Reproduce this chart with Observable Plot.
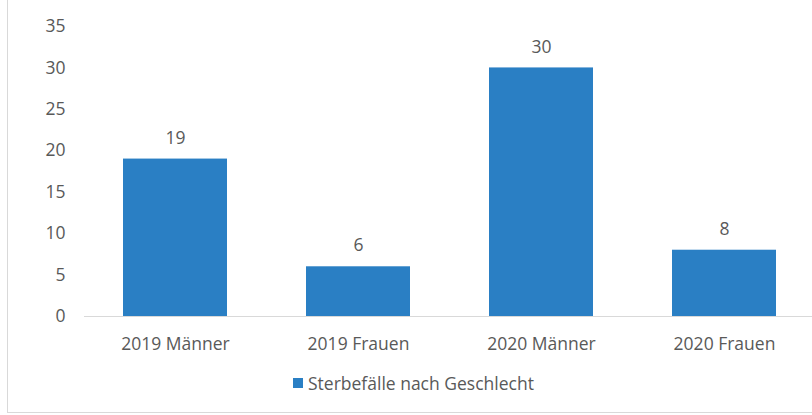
<!DOCTYPE html>
<html>
<head>
<meta charset="utf-8">
<script src="https://cdn.jsdelivr.net/npm/d3@7"></script>
<script src="https://cdn.jsdelivr.net/npm/@observablehq/plot@0.6"></script>
<style>
  html, body { margin: 0; padding: 0; background: #fff; }
  #wrap { position: relative; width: 812px; height: 415px; overflow: hidden; font-family: "Open Sans", sans-serif; color: #595959; }
  #chart svg { display: block; }
  .bl { position: absolute; left: 7px; top: 0; width: 1px; height: 413px; background: #d9d9d9; }
  .bb { position: absolute; left: 7px; top: 412px; width: 805px; height: 1px; background: #d9d9d9; }
  #legend { position: absolute; left: 293px; top: 373px; height: 20px; display: flex; align-items: center; font-size: 17.5px; line-height: 20px; }
  #legend .sw { width: 10px; height: 10px; margin-right: 5px; }
</style>
</head>
<body>
<div id="wrap">
  <div id="chart"></div>
  <div id="legend"></div>
  <div class="bl"></div>
  <div class="bb"></div>
</div>
<script>
const categories = ["2019 Männer", "2019 Frauen", "2020 Männer", "2020 Frauen"];
const values = [19, 6, 30, 8];
const yTicks = [0, 5, 10, 15, 20, 25, 30, 35];
const seriesName = "Sterbefälle nach Geschlecht";
const barColor = "#2a7fc4";

const data = categories.map((c, i) => ({cat: c, value: values[i]}));

const plot = Plot.plot({
  width: 812,
  height: 360,
  marginLeft: 84,
  marginRight: -4,
  marginTop: 26,
  marginBottom: 44,
  style: {fontFamily: "'Open Sans', sans-serif", fontSize: "17.5px", color: "#595959", background: "transparent", overflow: "visible"},
  x: {domain: categories, paddingInner: 0.43, paddingOuter: 0.215, label: null, tickSize: 0, tickPadding: 21},
  y: {domain: [0, 35], ticks: yTicks, label: null, tickSize: 0, tickPadding: 19},
  marks: [
    Plot.barY(data, {x: "cat", y: "value", fill: barColor}),
    Plot.ruleY([0], {stroke: "#d9d9d9", strokeWidth: 1}),
    Plot.text(data, {x: "cat", y: "value", text: d => String(d.value), dy: -21, fill: "#595959"})
  ]
});
document.getElementById("chart").appendChild(plot);

const legend = document.getElementById("legend");
const sw = document.createElement("div");
sw.className = "sw";
sw.style.background = barColor;
legend.appendChild(sw);
const lab = document.createElement("span");
lab.textContent = seriesName;
legend.appendChild(lab);
</script>
</body>
</html>
